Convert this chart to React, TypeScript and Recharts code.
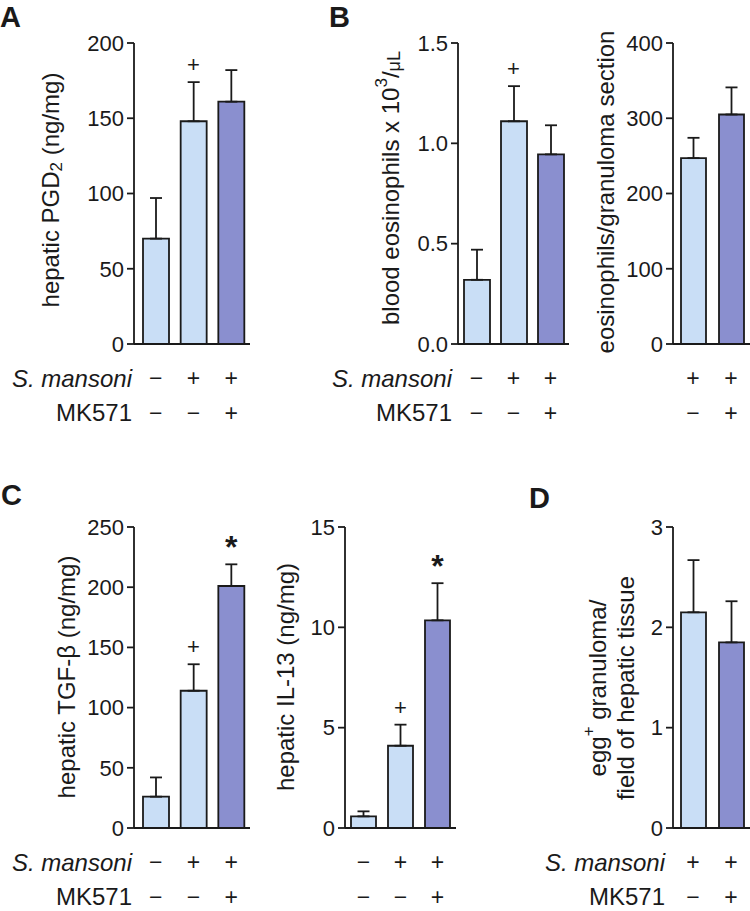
import React from 'react';
import { ComposedChart, Bar, Scatter, XAxis, YAxis, ErrorBar, Cell } from 'recharts';

const FONT = '"Liberation Sans", Arial, Helvetica, sans-serif';
const INK = '#1a1a1a';
const LIGHT = '#C9DEF6';
const DARK = '#8A8FCF';

// A - hepatic PGD2 (ng/mg)
const pgdGroups = ['naive', 'S. mansoni', 'S. mansoni + MK571'];
const pgdMean = [70, 148, 161];
const pgdSem = [27, 26, 21];
const pgdMarks = ['', '+', ''];
const pgdTicks = [0, 50, 100, 150, 200];

// B - blood eosinophils x 10^3/uL
const eosGroups = ['naive', 'S. mansoni', 'S. mansoni + MK571'];
const eosMean = [0.32, 1.11, 0.945];
const eosSem = [0.15, 0.175, 0.145];
const eosMarks = ['', '+', ''];
const eosTicks = [0, 0.5, 1.0, 1.5];

// B - eosinophils / granuloma section
const granGroups = ['S. mansoni', 'S. mansoni + MK571'];
const granMean = [247, 305];
const granSem = [27, 36];
const granTicks = [0, 100, 200, 300, 400];

// C - hepatic TGF-beta (ng/mg)
const tgfGroups = ['naive', 'S. mansoni', 'S. mansoni + MK571'];
const tgfMean = [26, 114, 201];
const tgfSem = [16, 22, 18];
const tgfMarks = ['', '+', '*'];
const tgfTicks = [0, 50, 100, 150, 200, 250];

// C - hepatic IL-13 (ng/mg)
const il13Groups = ['naive', 'S. mansoni', 'S. mansoni + MK571'];
const il13Mean = [0.58, 4.1, 10.35];
const il13Sem = [0.25, 1.05, 1.85];
const il13Marks = ['', '+', '*'];
const il13Ticks = [0, 5, 10, 15];

// D - egg+ granuloma / field of hepatic tissue
const eggGroups = ['S. mansoni', 'S. mansoni + MK571'];
const eggMean = [2.15, 1.85];
const eggSem = [0.52, 0.41];
const eggTicks = [0, 1, 2, 3];

// treatment rows under the axes
const threeInfected = ['\u2212', '+', '+'];
const threeMk = ['\u2212', '\u2212', '+'];
const twoInfected = ['+', '+'];
const twoMk = ['\u2212', '+'];

// baselines of the two treatment rows, below the x axis
const ROW1 = 42;
const ROW2 = 77;

function SignTick(props: any) {
  const { x, y, payload, groups, infected, mk } = props;
  const i = groups.indexOf(payload.value);
  return (
    <g fontSize={23} fontFamily={FONT} fill={INK}>
      <text x={x} y={y + ROW1} textAnchor="middle">
        {infected[i]}
      </text>
      <text x={x} y={y + ROW2} textAnchor="middle">
        {mk[i]}
      </text>
    </g>
  );
}

function MarkShape(props: any) {
  const { cx, cy, payload } = props;
  if (!payload || !payload.mark || cy == null || Number.isNaN(cy)) return <g />;
  if (payload.mark === '*') {
    return (
      <text x={cx} y={cy - 6} textAnchor="middle" fontSize={32} fontWeight="bold" fontFamily={FONT} fill={INK}>
        *
      </text>
    );
  }
  return (
    <text x={cx} y={cy - 10} textAnchor="middle" fontSize={22} fontFamily={FONT} fill={INK}>
      {payload.mark}
    </text>
  );
}

function Panel(p: any) {
  const { left, top, width, height, axisX, plotRight, topY, zeroY, pad, groups, mean, sem, marks, infected, mk, ticks, fmt, barSize } = p;
  const data = groups.map((g: string, i: number) => ({
    group: g,
    mean: mean[i],
    err: [0, sem[i]],
    mark: marks ? marks[i] : '',
    markAt: marks && marks[i] ? mean[i] + sem[i] : null,
  }));
  return (
    <div style={{ position: 'absolute', left, top, width, height }}>
      <ComposedChart
        width={width}
        height={height}
        data={data}
        barSize={barSize}
        margin={{ top: topY - top, right: left + width - plotRight, bottom: 0, left: 0 }}
      >
        <XAxis
          dataKey="group"
          height={top + height - zeroY}
          interval={0}
          tickLine={false}
          tickSize={0}
          tickMargin={0}
          padding={{ left: pad, right: 0 }}
          axisLine={{ stroke: INK, strokeWidth: 1.8 }}
          tick={<SignTick groups={groups} infected={infected} mk={mk} />}
        />
        <YAxis
          width={axisX - left}
          domain={[ticks[0], ticks[ticks.length - 1]]}
          ticks={ticks}
          interval={0}
          tickFormatter={fmt}
          tickSize={7}
          tickMargin={3}
          axisLine={{ stroke: INK, strokeWidth: 1.8 }}
          tickLine={{ stroke: INK, strokeWidth: 1.8 }}
          tick={{ fontSize: 22, fill: INK, fontFamily: FONT }}
        />
        <Bar dataKey="mean" stroke={INK} strokeWidth={1.8} isAnimationActive={false}>
          {data.map((d: any, i: number) => (
            <Cell key={d.group} fill={mk[i] === '+' ? DARK : LIGHT} />
          ))}
          <ErrorBar dataKey="err" direction="y" width={6} stroke={INK} strokeWidth={1.8} />
        </Bar>
        <Scatter dataKey="markAt" isAnimationActive={false} shape={MarkShape} />
      </ComposedChart>
    </div>
  );
}

function VTitle({ cx, cy, parts }: any) {
  return (
    <text
      x={cx}
      y={cy}
      transform={`rotate(-90 ${cx} ${cy})`}
      textAnchor="middle"
      dominantBaseline="central"
      fontSize={24}
      fontFamily={FONT}
      fill={INK}
    >
      {parts}
    </text>
  );
}

function RowLabels({ right, zero }: any) {
  return (
    <g fontFamily={FONT} fontSize={24} fill={INK} textAnchor="end">
      <text x={right} y={zero + ROW1 + 1} fontStyle="italic">S. mansoni</text>
      <text x={right} y={zero + ROW2}>MK571</text>
    </g>
  );
}

export default function App() {
  const one = (v: number) => v.toFixed(1);
  return (
    <div style={{ position: 'absolute', left: 0, top: 0, width: 750, height: 911, background: '#fff' }}>
      <Panel left={0} top={0} width={255} height={440} axisX={134} plotRight={250} topY={43} zeroY={344} pad={3}
        groups={pgdGroups} mean={pgdMean} sem={pgdSem} marks={pgdMarks} infected={threeInfected} mk={threeMk}
        ticks={pgdTicks} barSize={26} />
      <Panel left={255} top={0} width={320} height={440} axisX={458} plotRight={569} topY={43} zeroY={344} pad={0}
        groups={eosGroups} mean={eosMean} sem={eosSem} marks={eosMarks} infected={threeInfected} mk={threeMk}
        ticks={eosTicks} fmt={one} barSize={26} />
      <Panel left={575} top={0} width={175} height={440} axisX={673} plotRight={750} topY={43} zeroY={344} pad={1}
        groups={granGroups} mean={granMean} sem={granSem} infected={twoInfected} mk={twoMk}
        ticks={granTicks} barSize={25} />
      <Panel left={0} top={460} width={255} height={451} axisX={134} plotRight={250} topY={527} zeroY={828} pad={3}
        groups={tgfGroups} mean={tgfMean} sem={tgfSem} marks={tgfMarks} infected={threeInfected} mk={threeMk}
        ticks={tgfTicks} barSize={26} />
      <Panel left={255} top={460} width={210} height={451} axisX={345} plotRight={456} topY={527} zeroY={828} pad={0}
        groups={il13Groups} mean={il13Mean} sem={il13Sem} marks={il13Marks} infected={threeInfected} mk={threeMk}
        ticks={il13Ticks} barSize={25} />
      <Panel left={500} top={460} width={250} height={451} axisX={673} plotRight={750} topY={527} zeroY={828} pad={1}
        groups={eggGroups} mean={eggMean} sem={eggSem} infected={twoInfected} mk={twoMk}
        ticks={eggTicks} barSize={25} />

      <svg width={750} height={911} style={{ position: 'absolute', left: 0, top: 0, pointerEvents: 'none' }}>
        <g fontFamily={FONT} fontWeight="bold" fontSize={29} fill={INK}>
          <text x={0} y={27}>A</text>
          <text x={329} y={27}>B</text>
          <text x={1} y={505}>C</text>
          <text x={529} y={508}>D</text>
        </g>

        <VTitle cx={50} cy={190} parts={[
          'hepatic PGD',
          <tspan key="s" dy={6} fontSize={17}>2</tspan>,
          <tspan key="r" dy={-6}> (ng/mg)</tspan>,
        ]} />
        <VTitle cx={390} cy={188} parts={[
          'blood eosinophils x 10',
          <tspan key="s" dy={-9} fontSize={17}>3</tspan>,
          <tspan key="sl" dy={9}>/</tspan>,
          <tspan key="u" dy={4} fontSize={18}>{'\u03bcL'}</tspan>,
        ]} />
        <VTitle cx={605} cy={192} parts="eosinophils/granuloma section" />
        <VTitle cx={66} cy={677} parts={'hepatic TGF-\u03b2 (ng/mg)'} />
        <VTitle cx={285} cy={677} parts="hepatic IL-13 (ng/mg)" />
        <VTitle cx={597} cy={688} parts={[
          'egg',
          <tspan key="p" dy={-9} fontSize={17}>+</tspan>,
          <tspan key="r" dy={9}> granuloma/</tspan>,
        ]} />
        <VTitle cx={625} cy={688} parts="field of hepatic tissue" />

        <RowLabels right={132} zero={344} />
        <RowLabels right={452} zero={344} />
        <RowLabels right={132} zero={828} />
        <RowLabels right={665} zero={828} />
      </svg>
    </div>
  );
}
